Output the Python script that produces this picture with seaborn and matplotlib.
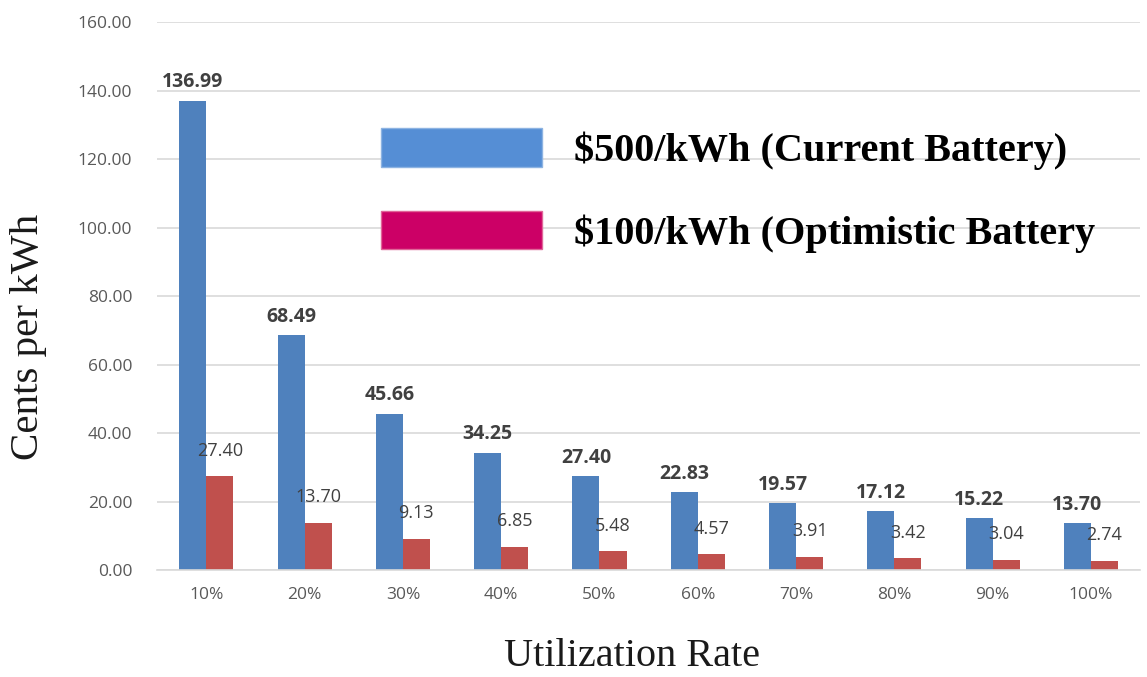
import matplotlib
matplotlib.use('Agg')
import matplotlib.pyplot as plt
from matplotlib.patches import Patch
import seaborn as sns
import pandas as pd

rates = ['10%', '20%', '30%', '40%', '50%', '60%', '70%', '80%', '90%', '100%']
current_battery = [136.99, 68.49, 45.66, 34.25, 27.40, 22.83, 19.57, 17.12, 15.22, 13.70]
optimistic_battery = [27.40, 13.70, 9.13, 6.85, 5.48, 4.57, 3.91, 3.42, 3.04, 2.74]
series = ['$500/kWh (Current Battery)', '$100/kWh (Optimistic Battery']

df = pd.DataFrame({
    'rate': rates * 2,
    'value': current_battery + optimistic_battery,
    'series': [series[0]] * len(rates) + [series[1]] * len(rates),
})

sns.set_theme(style='white')
plt.rcParams['font.family'] = ['Open Sans', 'DejaVu Sans']

fig = plt.figure(figsize=(11.47, 6.77), dpi=100)
ax = fig.add_axes([0.137, 0.158, 0.857, 0.8095])

sns.barplot(data=df, x='rate', y='value', hue='series', order=rates, hue_order=series,
            palette=['#4F81BD', '#C0504D'], width=0.55, saturation=1, linewidth=0,
            ax=ax, legend=False)

ax.set_ylim(0, 160)
ax.set_xlim(-0.5, 9.5)
ax.set_yticks(range(0, 161, 20))
ax.set_yticklabels([f'{v:.2f}' for v in range(0, 161, 20)])
ax.yaxis.grid(True, color='#D9D9D9', linewidth=1.2)
ax.set_axisbelow(True)
for s in ['top', 'right', 'left']:
    ax.spines[s].set_visible(False)
ax.spines['bottom'].set_color('#D9D9D9')
ax.spines['bottom'].set_linewidth(1.2)
ax.tick_params(axis='both', length=0, labelsize=12.5, colors='#595959', pad=12)
ax.tick_params(axis='y', pad=18)

ax.bar_label(ax.containers[0], fmt='%.2f', padding=6, fontsize=14, fontweight='bold', color='#404040')
ax.bar_label(ax.containers[1], fmt='%.2f', padding=12, fontsize=13, color='#404040')

ax.set_xlabel('Utilization Rate', family=['Liberation Serif'], fontsize=29, color='#1a1a1a')
ax.xaxis.set_label_coords(0.4835, -0.124)
ax.set_ylabel('Cents per kWh', family=['Liberation Serif'], fontsize=29.5, color='#1a1a1a')
ax.yaxis.set_label_coords(-0.112, 0.425)

handles = [Patch(facecolor='#558ED5', edgecolor='#8DB3E2'), Patch(facecolor='#CC0066', edgecolor='#E06699')]
labels = [s.replace('$', r'\$') for s in series]
leg = ax.legend(handles, labels, loc='upper left', bbox_to_anchor=(0.191, 0.872), frameon=False,
                prop={'family': 'Liberation Serif', 'weight': 'bold', 'size': 29},
                handlelength=4.0, handleheight=1.1, handletextpad=0.8, labelspacing=1.0)
for t in leg.get_texts():
    t.set_color('black')

fig.savefig('out.png', dpi=100)
